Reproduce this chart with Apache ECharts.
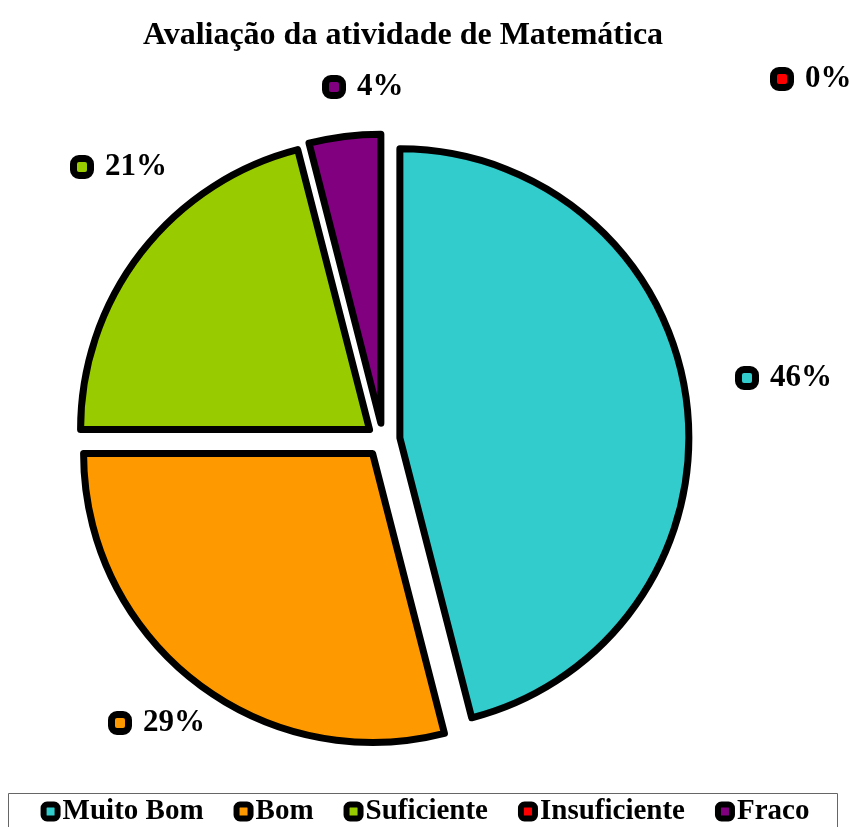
<!DOCTYPE html>
<html>
<head>
<meta charset="utf-8">
<script src="https://cdn.jsdelivr.net/npm/echarts@6/dist/echarts.min.js"></script>
<style>
  html, body { margin: 0; padding: 0; background: #fff; }
  #chart { width: 850px; height: 827px; }
</style>
</head>
<body>
<div id="chart"></div>
<script>
// dados do gráfico
const categories = ['Muito Bom', 'Bom', 'Suficiente', 'Insuficiente', 'Fraco']
const percentages = [46, 29, 21, 0, 4]
const colors = ['#33CCCC', '#FF9900', '#99CC00', '#FF0000', '#800080']

// posição das etiquetas (canto esquerdo do quadrado, centro vertical)
const labelPos = [
  [735, 378],
  [108, 723],
  [70, 167],
  [770, 79],
  [322, 87]
]

const font = '"Liberation Serif", "Times New Roman", serif'

const myChart = echarts.init(document.getElementById('chart'))

// etiquetas de dados com o quadrado da legenda
const labels = categories.map(function (name, i) {
  return {
    type: 'text',
    x: labelPos[i][0] + 7,
    y: labelPos[i][1],
    z: 10,
    style: {
      text: '{box|}{t|' + percentages[i] + '%}',
      verticalAlign: 'middle',
      rich: {
        box: {
          width: 10,
          height: 10,
          backgroundColor: colors[i],
          borderColor: '#000',
          borderWidth: 7,
          borderRadius: 2
        },
        t: { fontFamily: font, fontWeight: 'bold', fontSize: 31, fill: '#000', padding: [0, 0, 0, 18] }
      }
    }
  }
})

const option = {
  animation: false,
  title: {
    text: 'Avaliação da atividade de Matemática',
    left: 398,
    textAlign: 'center',
    top: 15,
    textStyle: { fontFamily: font, fontWeight: 'bold', fontSize: 32, color: '#000' }
  },
  graphic: [
    {
      type: 'rect',
      shape: { x: 8.5, y: 793.5, width: 829, height: 50 },
      style: { fill: '#fff', stroke: '#666', lineWidth: 1 },
      z: -1
    }
  ].concat(labels),
  legend: {
    data: categories,
    top: 792,
    left: 'center',
    itemWidth: 14,
    itemHeight: 14,
    itemGap: 30,
    icon: 'roundRect',
    itemStyle: { borderColor: '#000', borderWidth: 6 },
    textStyle: { fontFamily: font, fontWeight: 'bold', fontSize: 29, color: '#000' },
    selectedMode: false
  },
  series: [
    {
      type: 'pie',
      center: [383, 440],
      radius: 289,
      startAngle: 90,
      clockwise: true,
      selectedMode: 'multiple',
      selectedOffset: 17,
      emphasis: { disabled: true },
      itemStyle: { borderColor: '#000', borderWidth: 7, borderJoin: 'round' },
      label: { show: false },
      labelLine: { show: false },
      data: categories.map(function (name, i) {
        return {
          name: name,
          value: percentages[i],
          selected: true,
          itemStyle: { color: colors[i], borderWidth: percentages[i] === 0 ? 0 : 7 }
        }
      })
    }
  ]
}

myChart.setOption(option)
</script>
</body>
</html>
